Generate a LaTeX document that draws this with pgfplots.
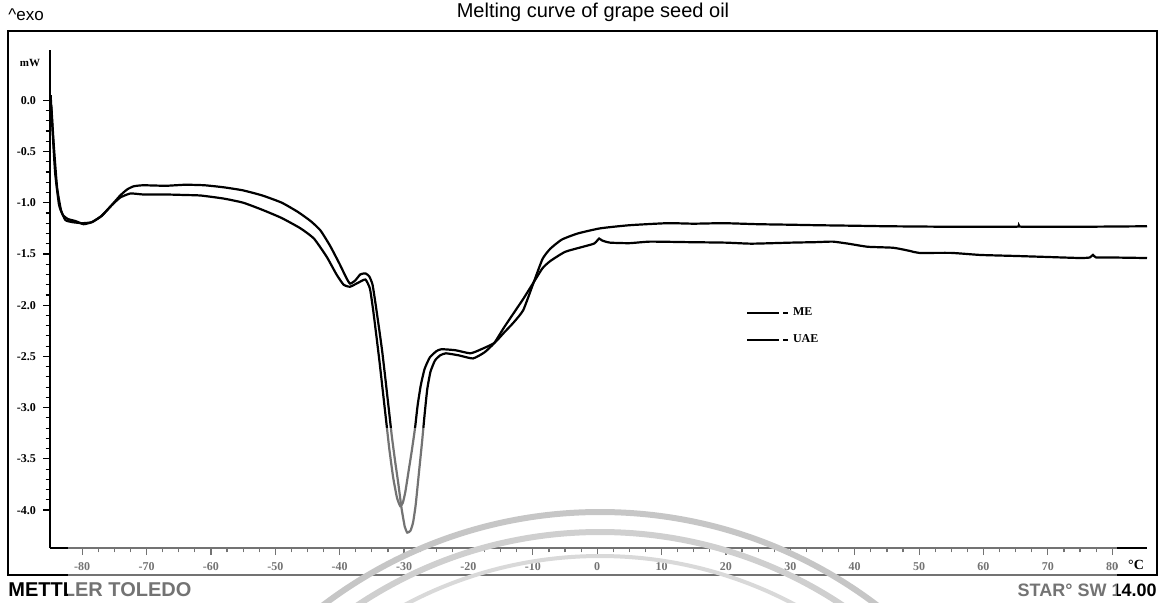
\documentclass[border=0pt]{standalone}
\usepackage{pgfplots}
\pgfplotsset{compat=1.18}
\usepackage{fontspec}
\setmainfont{Liberation Sans}
\newfontfamily\serifb{Liberation Serif}

\pgfplotstableread{
x y
-84.9 0.05
-84.6 -0.30
-84.2 -0.71
-83.6 -1.02
-83.0 -1.12
-82.2 -1.16
-81.0 -1.18
-79.8 -1.21
-78.5 -1.19
-77.0 -1.13
-75.5 -1.03
-74.1 -0.93
-73.0 -0.87
-72.0 -0.84
-70.5 -0.83
-67 -0.835
-64 -0.825
-61 -0.83
-58 -0.85
-55 -0.88
-52 -0.93
-49 -1.00
-46.5 -1.09
-44.5 -1.18
-43 -1.27
-41.5 -1.42
-40.0 -1.60
-39.0 -1.73
-38.4 -1.79
-37.6 -1.76
-36.8 -1.70
-36.0 -1.69
-35.4 -1.72
-34.9 -1.80
-34.4 -2.00
-33.9 -2.22
-33.4 -2.45
-32.9 -2.72
-32.4 -3.00
-31.9 -3.28
-31.4 -3.52
-30.9 -3.74
-30.4 -3.98
-29.9 -4.16
-29.5 -4.22
-29.0 -4.20
-28.6 -4.12
-28.2 -3.95
-27.7 -3.64
-27.2 -3.33
-26.8 -3.06
-26.4 -2.82
-25.9 -2.65
-25.2 -2.54
-24.4 -2.49
-23.5 -2.47
-21.5 -2.49
-19.3 -2.52
-17.5 -2.46
-16 -2.37
-14.5 -2.22
-13 -2.08
-11.5 -1.94
-10 -1.79
-8.5 -1.64
-7.3 -1.57
-5 -1.48
-2.2 -1.43
-0.5 -1.40
0.0 -1.37
0.3 -1.35
0.8 -1.37
2.0 -1.39
5 -1.395
8.2 -1.38
14 -1.385
20 -1.39
24 -1.40
30 -1.39
34 -1.385
36.6 -1.38
39 -1.40
42 -1.43
46 -1.44
48.5 -1.47
50 -1.49
55 -1.49
59.5 -1.51
65 -1.52
70 -1.53
75 -1.54
76.5 -1.535
77 -1.51
77.5 -1.535
80 -1.535
85.4 -1.54
}\dataME

\pgfplotstableread{
x y
-84.8 -0.05
-84.4 -0.45
-83.9 -0.85
-83.3 -1.07
-82.6 -1.17
-81.5 -1.19
-80.0 -1.20
-78.5 -1.19
-77.0 -1.13
-75.5 -1.03
-74.1 -0.95
-72.5 -0.91
-70.5 -0.92
-67 -0.92
-64 -0.925
-61.6 -0.93
-58 -0.96
-55 -1.00
-52 -1.07
-49 -1.15
-46.1 -1.25
-44 -1.35
-42 -1.53
-40.5 -1.70
-39.4 -1.80
-38.4 -1.82
-37.1 -1.78
-36.0 -1.75
-35.3 -1.84
-34.8 -2.05
-34.3 -2.30
-33.8 -2.56
-33.3 -2.84
-32.8 -3.12
-32.3 -3.40
-31.7 -3.68
-31.1 -3.88
-30.6 -3.96
-30.2 -3.93
-29.8 -3.82
-29.3 -3.62
-28.8 -3.42
-28.3 -3.20
-27.9 -2.98
-27.4 -2.78
-26.8 -2.62
-26.0 -2.51
-25.0 -2.45
-24.2 -2.43
-22 -2.44
-19.7 -2.47
-18 -2.43
-16 -2.37
-14.5 -2.27
-13 -2.17
-11.5 -2.05
-10 -1.80
-8.5 -1.55
-7.3 -1.45
-5.5 -1.36
-3 -1.30
0.5 -1.25
5 -1.22
10.9 -1.20
15 -1.205
19.6 -1.20
25 -1.21
30 -1.215
34.2 -1.22
40 -1.225
45 -1.23
55 -1.235
65 -1.235
65.5 -1.222
66 -1.235
75 -1.235
85.4 -1.23
}\dataUAE

\begin{document}
\begin{tikzpicture}
\path[use as bounding box] (0,0) rectangle (582.5pt,301pt);
% outer frame
\draw[line width=0.8pt] (4pt,13.5pt) rectangle (578.5pt,285.5pt);
\begin{axis}[
  at={(25pt,27pt)}, anchor=south west,
  scale only axis, width=548.5pt, height=249pt,
  xmin=-85, xmax=85.4, ymin=-4.37, ymax=0.49,
  axis x line=bottom, axis y line=left,
  axis line style={-, line width=0.8pt},
  xtick={-80,-70,...,80}, ytick={0,-0.5,...,-4},
  minor x tick num=3, minor y tick num=4,
  tick align=outside,
  major tick length=3.5pt, minor tick length=2.2pt,
  every tick/.style={black, line width=0.6pt},
  /pgf/number format/assume math mode=true,
  yticklabel style={/pgf/number format/.cd, fixed, fixed zerofill, precision=1},
  ticklabel style={font=\fontsize{6}{7}\selectfont\serifb\bfseries},
  legend style={draw=none, fill=none, at={(0.629,0.50)}, anchor=north west,
    font=\fontsize{6}{7}\selectfont\serifb\bfseries, row sep=4pt},
  legend cell align=left,
  legend image code/.code={\draw[line width=0.8pt] (0pt,0pt) -- (16pt,0pt);
    \draw[line width=0.8pt] (18pt,0pt) -- (20.5pt,0pt);},
]
\addplot[black, line width=1.1pt, smooth, tension=0.3] table {\dataME};
\addlegendentry{ME}
\addplot[black, line width=1.1pt, smooth, tension=0.3] table {\dataUAE};
\addlegendentry{UAE}
\end{axis}
% texts
\node[anchor=west, font=\fontsize{8.5}{9}\selectfont, inner sep=0pt] at (4pt,293.5pt) {\textasciicircum exo};
\node[font=\fontsize{10}{11}\selectfont, inner sep=0pt] at (296.5pt,295pt) {Melting curve of grape seed oil};
\node[font=\fontsize{5.5}{6}\selectfont\serifb\bfseries, inner sep=0pt] at (15pt,269.5pt) {mW};
\node[font=\fontsize{7}{8}\selectfont\serifb\bfseries, inner sep=0pt] at (568pt,18.5pt) {°C};
\node[anchor=west, font=\fontsize{10}{11}\selectfont\bfseries, inner sep=0pt] at (4pt,6pt) {METTLER TOLEDO};
\node[anchor=east, font=\fontsize{9}{10}\selectfont\bfseries, inner sep=0pt] at (578.5pt,6pt) {STAR\textdegree\ SW 14.00};
% watermark
\fill[white, opacity=0.45] (34pt,0pt) rectangle (558.5pt,87pt);
\begin{scope}
\clip (140pt,0pt) rectangle (460pt,50pt);
\draw[gray!45, line width=3pt] (300pt,-184pt) circle (229pt);
\draw[gray!38, line width=3pt] (300pt,-184pt) circle (219pt);
\draw[gray!30, line width=2pt] (300pt,-184pt) circle (207pt);
\end{scope}
\end{tikzpicture}
\end{document}
